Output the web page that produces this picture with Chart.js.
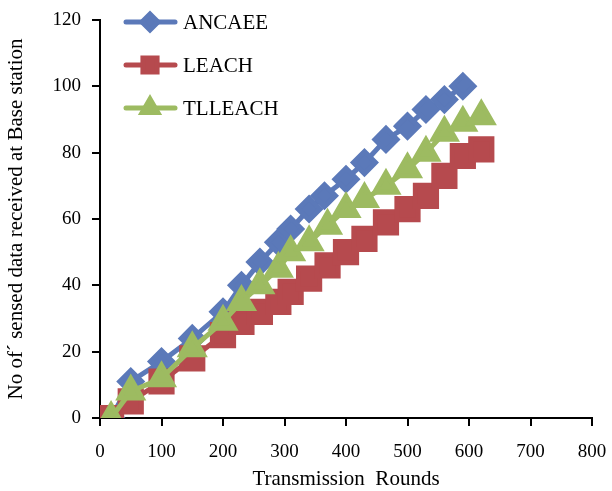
<!DOCTYPE html>
<html>
<head>
<meta charset="utf-8">
<script src="https://cdn.jsdelivr.net/npm/chart.js@4"></script>
<style>
  body { margin: 0; background: #fff; }
  #wrap { width: 612px; height: 491px; }
</style>
</head>
<body>
<div id="wrap"><canvas id="chart" width="612" height="491"></canvas></div>
<script>
// data
const ancaeeRounds = [18, 50, 100, 150, 200, 230, 260, 290, 310, 340, 365, 400, 430, 465, 500, 530, 560, 590];
const ancaeeData   = [0, 11, 17, 24, 32, 40, 47, 53, 57, 63, 67, 72, 77, 84, 88, 93, 96, 100];

const leachRounds = [18, 50, 100, 150, 200, 230, 260, 290, 310, 340, 370, 400, 430, 465, 500, 530, 560, 590, 620];
const leachData   = [0, 5, 11, 18, 25, 29, 32, 35, 38, 42, 46, 50, 54, 59, 63, 67, 73, 79, 81];

const tlleachRounds = [18, 50, 100, 150, 200, 230, 260, 290, 310, 340, 370, 400, 430, 465, 500, 530, 560, 590, 620];
const tlleachData   = [0, 8, 12, 21, 29, 35, 40, 45, 50, 53, 58, 63, 66, 70, 75, 80, 86, 89, 91];

const seriesNames = ['ANCAEE', 'LEACH', 'TLLEACH'];
const xTicks = [0, 100, 200, 300, 400, 500, 600, 700, 800];
const yTicks = [0, 20, 40, 60, 80, 100, 120];

const colors = ['#5b79b9', '#b64a4e', '#9dbb61'];

function toPoints(xs, ys) {
  return xs.map((x, i) => ({ x: x, y: ys[i] }));
}

// vertical legend in the top left of the plot, like the original
const sideLegend = {
  id: 'sideLegend',
  afterDraw(chart) {
    const ctx = chart.ctx;
    const sizes = [8, 10, 9];
    ctx.save();
    chart.data.datasets.forEach((ds, i) => {
      const y = 22 + i * 43;
      ctx.strokeStyle = ds.borderColor;
      ctx.lineWidth = 5;
      ctx.lineCap = 'round';
      ctx.beginPath();
      ctx.moveTo(126, y);
      ctx.lineTo(175, y);
      ctx.stroke();
      ctx.fillStyle = ds.backgroundColor;
      ctx.strokeStyle = ds.backgroundColor;
      Chart.helpers.drawPoint(ctx, { pointStyle: ds.pointStyle, radius: sizes[i], rotation: 0, borderWidth: 1 }, 150, y);
      ctx.fillStyle = '#000';
      ctx.font = '21px "Liberation Serif"';
      ctx.textBaseline = 'middle';
      ctx.textAlign = 'left';
      ctx.fillText(ds.label, 183, y + 1);
    });
    ctx.restore();
  }
};

const serif = { family: '"Liberation Serif", "Times New Roman", serif' };

new Chart(document.getElementById('chart'), {
  type: 'line',
  data: {
    datasets: [
      {
        label: seriesNames[0],
        data: toPoints(ancaeeRounds, ancaeeData),
        borderColor: colors[0], backgroundColor: colors[0],
        pointStyle: 'rectRot', pointRadius: 11, borderWidth: 5, order: 3
      },
      {
        label: seriesNames[1],
        data: toPoints(leachRounds, leachData),
        borderColor: colors[1], backgroundColor: colors[1],
        pointStyle: 'rect', pointRadius: 15, borderWidth: 5, order: 2
      },
      {
        label: seriesNames[2],
        data: toPoints(tlleachRounds, tlleachData),
        borderColor: colors[2], backgroundColor: colors[2],
        pointStyle: 'triangle', pointRadius: 13, borderWidth: 5, order: 1
      }
    ]
  },
  options: {
    responsive: false,
    animation: false,
    events: [],
    layout: { padding: { top: 19, right: 19, left: 0, bottom: 0 } },
    elements: { point: { borderWidth: 1 }, line: { tension: 0 } },
    plugins: {
      legend: { display: false },
      tooltip: { enabled: false }
    },
    scales: {
      x: {
        type: 'linear',
        min: 0, max: 800,
        afterBuildTicks: (s) => { s.ticks = xTicks.map(v => ({ value: v })); },
        afterFit: (s) => { s.height = 73; s.paddingLeft = 0; s.paddingRight = 0; },
        border: { color: '#000', width: 2 },
        grid: { drawOnChartArea: false, color: '#000', lineWidth: 2, tickLength: 8 },
        ticks: { color: '#000', font: { ...serif, size: 19 }, padding: 15, maxRotation: 0 },
        title: {
          display: true, text: 'Transmission  Rounds', color: '#000',
          font: { ...serif, size: 21, lineHeight: 1.1 }, padding: { top: 0, bottom: 0 }
        }
      },
      y: {
        min: 0, max: 120,
        afterBuildTicks: (s) => { s.ticks = yTicks.map(v => ({ value: v })); },
        afterFit: (s) => { s.width = 100; s.paddingTop = 0; s.paddingBottom = 0; },
        border: { color: '#000', width: 2 },
        grid: { drawOnChartArea: false, color: '#000', lineWidth: 2, tickLength: 8 },
        ticks: { color: '#000', font: { ...serif, size: 19 }, padding: 11 },
        title: {
          display: true, text: 'No of´ sensed data received at Base station', color: '#000',
          font: { ...serif, size: 21 }, padding: { top: 4, bottom: 4 }
        }
      }
    }
  },
  plugins: [sideLegend]
});
</script>
</body>
</html>
